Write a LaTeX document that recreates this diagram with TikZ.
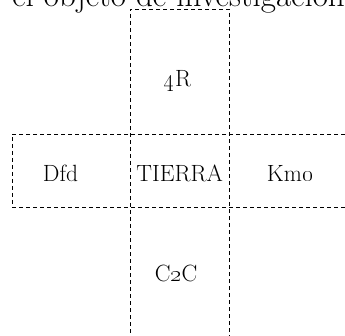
\documentclass[tikz,border=0pt]{standalone}
\usepackage{fix-cm}
\begin{document}
\begin{tikzpicture}[x=1pt,y=1pt,
  band/.style={draw, dash pattern=on 4pt off 3pt, line width=0.8pt, inner sep=0pt},
  lbl/.style={anchor=base, inner sep=0pt, font=\fontsize{23.5}{28}\selectfont}]
\useasboundingbox (0,0) rectangle (345,335);
\clip (0,0) rectangle (345,335);
\node[band, minimum width=99pt, minimum height=336pt] (vband) at (179.5,158) {};
\node[band, minimum width=340pt, minimum height=73pt] (hband) at (182,164.5) {};
\node[lbl] (r4) at (177.5,248) {\oldstylenums{4}R};
\node[lbl] (tierra) at (179.7,153.3) {TIERRA};
\node[lbl] (dfd) at (60.5,153.3) {Dfd};
\node[lbl] (kmo) at (290,153.3) {Km\oldstylenums{0}};
\node[lbl] (c2c) at (176,53.3) {C\oldstylenums{2}C};
\node[anchor=base east, inner sep=0pt, font=\fontsize{33}{38}\selectfont] (title) at (345,328) {el objeto de investigación};
\end{tikzpicture}
\end{document}
